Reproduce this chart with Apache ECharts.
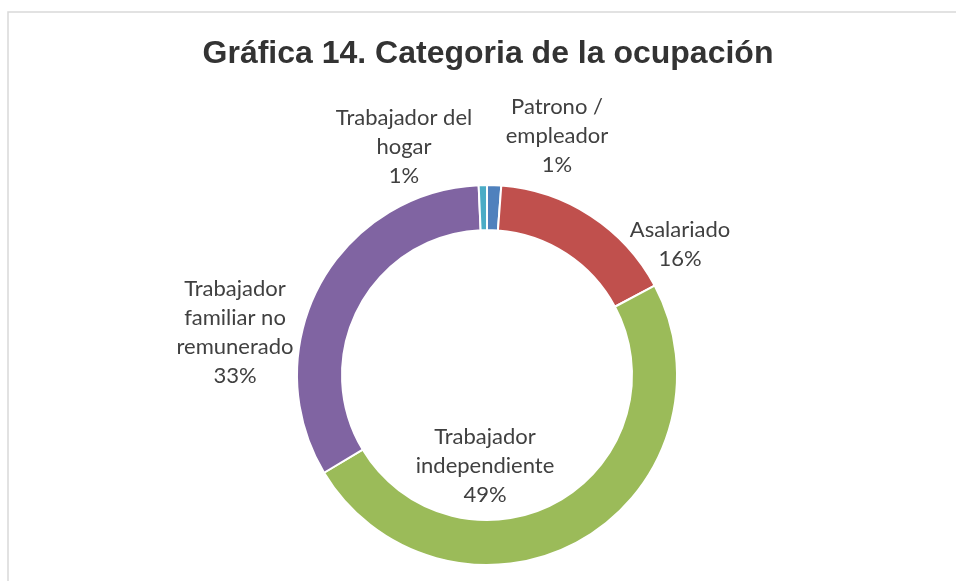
<!DOCTYPE html>
<html>
<head>
<meta charset="utf-8">
<script src="https://cdn.jsdelivr.net/npm/echarts@6/dist/echarts.min.js"></script>
<style>
html,body{margin:0;padding:0;background:#fff;}
#chart{width:956px;height:581px;}
</style>
</head>
<body>
<div id="chart"></div>
<script>
const categories = ['Patrono / empleador', 'Asalariado', 'Trabajador independiente', 'Trabajador familiar no remunerado', 'Trabajador del hogar'];
const labelLines = ['Patrono /\nempleador', 'Asalariado', 'Trabajador\nindependiente', 'Trabajador\nfamiliar no\nremunerado', 'Trabajador del\nhogar'];
const values = [1.2, 16.0, 49.2, 32.9, 0.7];
const colors = ['#4F81BD', '#C0504D', '#9BBB59', '#8064A2', '#4BACC6'];
const labelPos = [[557, 136], [680, 244], [485, 466], [235, 332], [404, 147]];

const chart = echarts.init(document.getElementById('chart'));
chart.setOption({
  animation: false,
  title: {
    text: 'Gráfica 14. Categoria de la ocupación',
    left: 483, top: 33, textAlign: 'center',
    textStyle: {fontFamily: 'Liberation Sans, Arial, sans-serif', fontWeight: 'bold', fontSize: 32, color: '#333333'}
  },
  graphic: [{
    type: 'rect', silent: true,
    shape: {x: 8, y: 12, width: 1000, height: 700},
    style: {fill: 'none', stroke: '#d9d9d9', lineWidth: 1.5}
  }],
  series: [{
    type: 'pie',
    center: [487, 375],
    radius: [145, 190],
    startAngle: 90,
    clockwise: true,
    percentPrecision: 0,
    itemStyle: {borderColor: '#ffffff', borderWidth: 2},
    label: {
      show: true,
      position: 'outside',
      formatter: p => labelLines[p.dataIndex] + '\n' + p.percent + '%',
      fontFamily: 'Lato, "Open Sans", sans-serif',
      fontSize: 22,
      lineHeight: 29,
      color: '#404040',
      align: 'center'
    },
    labelLine: {show: false},
    labelLayout: function (params) {
      const p = labelPos[params.dataIndex];
      return {x: p[0], y: p[1], align: 'center', verticalAlign: 'middle'};
    },
    emphasis: {disabled: true},
    data: categories.map((c, i) => ({name: c, value: values[i], itemStyle: {color: colors[i]}}))
  }]
});
</script>
</body>
</html>
